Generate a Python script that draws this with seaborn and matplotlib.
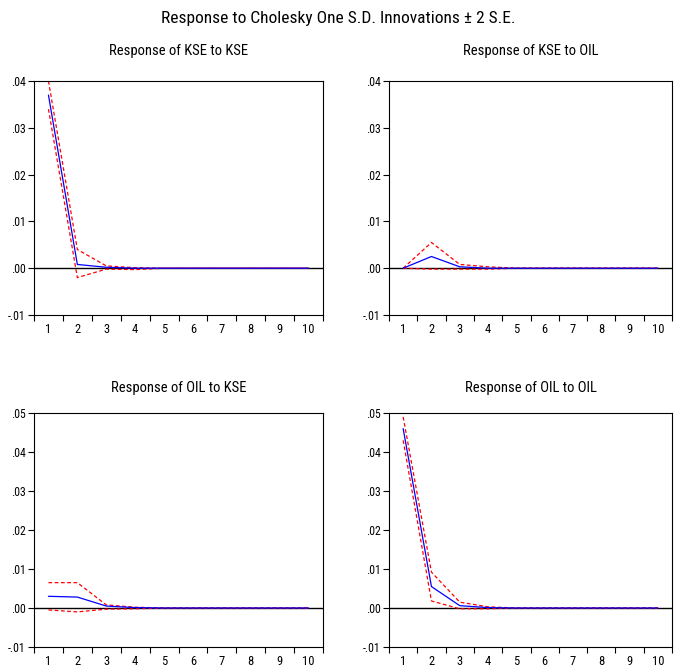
import numpy as np
import pandas as pd
import matplotlib
matplotlib.use("Agg")
import matplotlib.pyplot as plt
import seaborn as sns
from matplotlib import font_manager
from matplotlib.ticker import FuncFormatter, FixedLocator

periods = [1, 2, 3, 4, 5, 6, 7, 8, 9, 10]

kse_kse = [0.0370, 0.0008, 0.0002, 0.0000, 0, 0, 0, 0, 0, 0]
kse_kse_up = [0.0400, 0.0040, 0.0005, 0.0001, 0, 0, 0, 0, 0, 0]
kse_kse_lo = [0.0340, -0.0020, -0.0002, -0.0003, 0, 0, 0, 0, 0, 0]

kse_oil = [0.0000, 0.0025, 0.0003, 0.0000, 0, 0, 0, 0, 0, 0]
kse_oil_up = [0.0000, 0.0055, 0.0008, 0.0003, 0, 0, 0, 0, 0, 0]
kse_oil_lo = [0.0000, -0.0002, -0.0002, -0.0002, 0, 0, 0, 0, 0, 0]

oil_kse = [0.0030, 0.0028, 0.0005, 0.0001, 0, 0, 0, 0, 0, 0]
oil_kse_up = [0.0065, 0.0065, 0.0008, 0.0002, 0, 0, 0, 0, 0, 0]
oil_kse_lo = [-0.0005, -0.0010, -0.0003, -0.0002, 0, 0, 0, 0, 0, 0]

oil_oil = [0.0460, 0.0055, 0.0006, 0.0001, 0, 0, 0, 0, 0, 0]
oil_oil_up = [0.0490, 0.0092, 0.0015, 0.0003, 0, 0, 0, 0, 0, 0]
oil_oil_lo = [0.0430, 0.0018, -0.0002, -0.0002, 0, 0, 0, 0, 0, 0]

titles = ["Response of KSE to KSE", "Response of KSE to OIL",
          "Response of OIL to KSE", "Response of OIL to OIL"]
main_title = "Response to Cholesky One S.D. Innovations \u00b1 2 S.E."

sns.set_style("white")
names = {f.name for f in font_manager.fontManager.ttflist}
narrow = [n for n in ["Liberation Sans Narrow", "Arial Narrow", "Roboto Condensed",
                      "Open Sans Condensed", "DejaVu Sans Condensed"] if n in names]
plt.rcParams['font.family'] = narrow + ['DejaVu Sans']
plt.rcParams['font.stretch'] = 'condensed'
plt.rcParams['text.color'] = 'black'
plt.rcParams['xtick.color'] = 'black'
plt.rcParams['ytick.color'] = 'black'

fig = plt.figure(figsize=(6.76, 6.68), dpi=100)
W, H = 676, 668
boxes = [(34, 81, 323, 315), (389, 81, 672, 315),
         (34, 413, 323, 647), (389, 413, 672, 647)]
series = [(kse_kse, kse_kse_up, kse_kse_lo), (kse_oil, kse_oil_up, kse_oil_lo),
          (oil_kse, oil_kse_up, oil_kse_lo), (oil_oil, oil_oil_up, oil_oil_lo)]
ylims = [(-0.01, 0.04), (-0.01, 0.04), (-0.01, 0.05), (-0.01, 0.05)]

def fmt(v, pos):
    s = "%.2f" % v
    if s.startswith("0."):
        s = s[1:]
    elif s.startswith("-0."):
        s = "-" + s[2:]
    return s

for i in range(4):
    x0, y0, x1, y1 = boxes[i]
    ax = fig.add_axes([x0 / W, 1 - y1 / H, (x1 - x0) / W, (y1 - y0) / H])
    mid, up, lo = series[i]
    df = pd.DataFrame({"period": periods, "mid": mid, "up": up, "lo": lo})
    ax.axhline(0, color="black", lw=1.0, zorder=1)
    sns.lineplot(data=df, x="period", y="up", ax=ax, color="#ff0000", lw=0.9,
                 linestyle=(0, (3, 2)), zorder=2)
    sns.lineplot(data=df, x="period", y="lo", ax=ax, color="#ff0000", lw=0.9,
                 linestyle=(0, (3, 2)), zorder=2)
    sns.lineplot(data=df, x="period", y="mid", ax=ax, color="#0000ff", lw=0.9, zorder=3)
    ax.set_xlim(0.5, 10.5)
    ax.set_ylim(*ylims[i])
    lo_, hi_ = ylims[i]
    ax.yaxis.set_major_locator(FixedLocator(np.arange(lo_, hi_ + 1e-9, 0.01)))
    ax.yaxis.set_major_formatter(FuncFormatter(fmt))
    ax.xaxis.set_major_locator(FixedLocator(periods))
    ax.set_xticklabels([str(p) for p in periods])
    ax.xaxis.set_minor_locator(FixedLocator(np.arange(0.5, 10.6, 1.0)))
    ax.tick_params(axis="x", which="major", length=0, labelsize=9, pad=6)
    ax.tick_params(axis="x", which="minor", length=4, width=0.8, direction="out", bottom=True)
    ax.tick_params(axis="y", which="major", length=4, width=0.8, direction="out", left=True, labelsize=8.5, pad=2)
    ax.set_xlabel("")
    ax.set_ylabel("")
    for sp in ax.spines.values():
        sp.set_color("black")
        sp.set_linewidth(0.8)
    ax.set_title(titles[i], fontsize=10.5, pad=15 if i >= 2 else 19)

fig.text(0.5, 1 - 18 / H, main_title, ha="center", va="center", fontsize=12.5)
fig.savefig("out.png", dpi=100)
